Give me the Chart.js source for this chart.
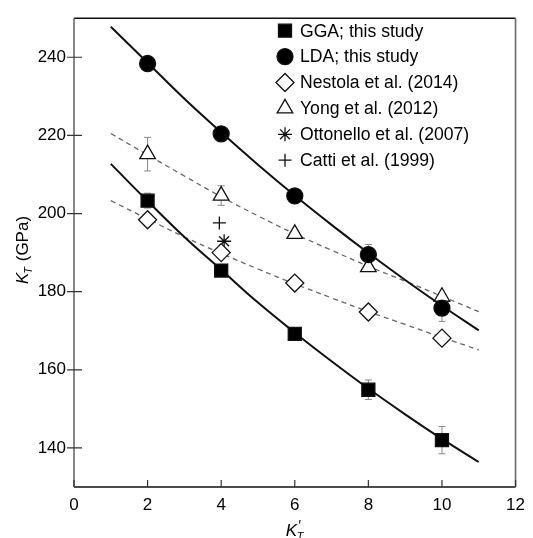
<!DOCTYPE html>
<html>
<head>
<meta charset="utf-8">
<script src="https://cdn.jsdelivr.net/npm/chart.js@4/dist/chart.umd.min.js"></script>
<style>
  html, body { margin: 0; padding: 0; background: #fff; }
  #wrap { width: 533px; height: 538px; }
</style>
</head>
<body>
<div id="wrap"><canvas id="c" width="533" height="538"></canvas></div>
<script>
// K'_T values where the points sit
const kPrime = [2, 4, 6, 8, 10];
const ggaK = [203.3, 185.4, 169.2, 154.9, 142.0];
const ggaErr = [1.9, 0, 0, 2.5, 3.5];
const ldaK = [238.4, 220.4, 204.5, 189.5, 175.8];
const ldaErr = [1.8, 0.6, 0.6, 2.6, 3.4];
const nestolaK = [198.4, 190.0, 182.2, 174.8, 168.1];
const yongK = [215.2, 204.6, 194.8, 186.3, 178.7];
const yongErr = [4.3, 2.5, 0, 0, 0];
const ottonelloKp = [4.08];
const ottonelloK = [192.9];
const cattiKp = [3.95];
const cattiK = [197.6];

// fitted curves
const fitKp = [1, 2, 3, 4, 5, 6, 7, 8, 9, 10, 11];
const ldaFit = [247.8, 238.6, 229.4, 220.8, 212.5, 204.6, 197.1, 189.9, 183.0, 176.4, 170.1];
const ggaFit = [212.7, 203.2, 194.0, 185.6, 177.2, 169.5, 162.2, 155.2, 148.6, 142.3, 136.4];
const yongFit = [220.5, 215.0, 209.6, 204.3, 199.4, 194.8, 190.6, 186.5, 182.7, 178.8, 174.9];
const nestolaFit = [203.3, 198.6, 194.0, 189.8, 185.8, 182.0, 178.4, 174.9, 171.6, 168.3, 165.1];

const xTicks = [0, 2, 4, 6, 8, 10, 12];
const yTicks = [140, 160, 180, 200, 220, 240];

const legendNames = ['GGA; this study', 'LDA; this study', 'Nestola et al. (2014)',
  'Yong et al. (2012)', 'Ottonello et al. (2007)', 'Catti et al. (1999)'];

const FONT = '"Liberation Sans", Arial, sans-serif';

function pts(xs, ys) {
  return xs.map((x, i) => ({x: x, y: ys[i]}));
}

function marker(label, xs, ys, style, radius, fill, err) {
  return {
    label: label,
    data: pts(xs, ys),
    pointStyle: style,
    pointRadius: radius,
    pointHoverRadius: radius,
    pointBackgroundColor: fill,
    pointBorderColor: '#111',
    pointBorderWidth: 1.3,
    showLine: false,
    order: 0,
    err: err
  };
}

function curve(ys, dashed) {
  return {
    label: '',
    data: pts(fitKp, ys),
    showLine: true,
    pointRadius: 0,
    borderColor: dashed ? '#666' : '#111',
    borderWidth: dashed ? 1.3 : 2,
    borderDash: dashed ? [5, 4] : [],
    tension: 0.4,
    order: 1
  };
}

const datasets = [
  marker(legendNames[0], kPrime, ggaK, 'rect', 9.2, '#000', ggaErr),
  marker(legendNames[1], kPrime, ldaK, 'circle', 8, '#000', ldaErr),
  marker(legendNames[2], kPrime, nestolaK, 'rectRot', 9, '#fff'),
  marker(legendNames[3], kPrime, yongK, 'triangle', 9, '#fff', yongErr),
  marker(legendNames[4], ottonelloKp, ottonelloK, 'star', 7, '#fff'),
  marker(legendNames[5], cattiKp, cattiK, 'cross', 6.5, '#fff'),
  curve(ldaFit, false),
  curve(ggaFit, false),
  curve(yongFit, true),
  curve(nestolaFit, true)
];

const extras = {
  id: 'extras',
  beforeDatasetsDraw(chart) {
    const ctx = chart.ctx, xs = chart.scales.x, ys = chart.scales.y;
    ctx.save();
    ctx.strokeStyle = '#888';
    ctx.lineWidth = 1;
    chart.data.datasets.forEach(ds => {
      if (!ds.err) return;
      ds.data.forEach((p, i) => {
        const e = ds.err[i];
        if (!e) return;
        const px = xs.getPixelForValue(p.x);
        const top = ys.getPixelForValue(p.y + e);
        const bot = ys.getPixelForValue(p.y - e);
        ctx.beginPath();
        ctx.moveTo(px, top); ctx.lineTo(px, bot);
        ctx.moveTo(px - 3.5, top); ctx.lineTo(px + 3.5, top);
        ctx.moveTo(px - 3.5, bot); ctx.lineTo(px + 3.5, bot);
        ctx.stroke();
      });
    });
    ctx.restore();
  },
  afterDraw(chart) {
    const ctx = chart.ctx, a = chart.chartArea;
    const xs = chart.scales.x, ys = chart.scales.y;
    ctx.save();
    // frame
    ctx.lineWidth = 1.6;
    ctx.strokeStyle = '#111';
    ctx.beginPath();
    ctx.moveTo(a.left, a.top); ctx.lineTo(a.right, a.top);
    ctx.moveTo(a.left, a.bottom); ctx.lineTo(a.right, a.bottom);
    ctx.stroke();
    ctx.strokeStyle = '#6a6a6a';
    ctx.beginPath();
    ctx.moveTo(a.left, a.top); ctx.lineTo(a.left, a.bottom);
    ctx.moveTo(a.right, a.top); ctx.lineTo(a.right, a.bottom);
    ctx.stroke();
    // ticks
    ctx.lineWidth = 1.2;
    ctx.strokeStyle = '#333';
    ctx.beginPath();
    xTicks.forEach(v => {
      const px = xs.getPixelForValue(v);
      ctx.moveTo(px, a.bottom); ctx.lineTo(px, a.bottom - 7);
    });
    yTicks.forEach(v => {
      const py = ys.getPixelForValue(v);
      ctx.moveTo(a.left - 7, py); ctx.lineTo(a.left + 8, py);
    });
    ctx.stroke();

    // legend
    const lx = 285, ly = 30.7, step = 25.9;
    ctx.font = '17.6px ' + FONT;
    ctx.textBaseline = 'middle';
    ctx.textAlign = 'left';
    ctx.lineWidth = 1.3;
    for (let i = 0; i < 6; i++) {
      const ds = chart.data.datasets[i];
      const cy = ly + i * step;
      ctx.strokeStyle = '#111';
      ctx.fillStyle = ds.pointBackgroundColor;
      Chart.helpers.drawPoint(ctx, {
        pointStyle: ds.pointStyle,
        radius: ds.pointRadius,
        rotation: 0,
        borderWidth: 1.3
      }, lx, cy);
      ctx.fillStyle = '#000';
      ctx.fillText(ds.label, lx + 15, cy + 1);
    }

    // y title: K_T (GPa)
    ctx.save();
    ctx.translate(22, 250);
    ctx.rotate(-Math.PI / 2);
    ctx.fillStyle = '#000';
    ctx.textBaseline = 'alphabetic';
    const big = '17px ' + FONT, bigI = 'italic 17px ' + FONT, small = 'italic 11px ' + FONT;
    ctx.font = bigI; const wK = ctx.measureText('K').width;
    ctx.font = small; const wT = ctx.measureText('T').width;
    ctx.font = big; const wG = ctx.measureText(' (GPa)').width;
    let sx = -(wK + wT + wG) / 2;
    ctx.font = bigI; ctx.fillText('K', sx, 6); sx += wK;
    ctx.font = small; ctx.fillText('T', sx - 1, 10); sx += wT;
    ctx.font = big; ctx.fillText(' (GPa)', sx, 6);
    ctx.restore();

    // x title: K'_T
    const cx = (a.left + a.right) / 2;
    ctx.fillStyle = '#000';
    ctx.textBaseline = 'alphabetic';
    ctx.font = bigI;
    ctx.fillText('K', cx - 9, 536);
    ctx.font = 'italic 14px ' + FONT;
    ctx.fillText('\u2032', cx + 3, 530);
    ctx.font = small;
    ctx.fillText('T', cx + 2, 540);
    ctx.restore();
  }
};

new Chart(document.getElementById('c'), {
  type: 'scatter',
  data: {datasets: datasets},
  options: {
    responsive: false,
    animation: false,
    events: [],
    layout: {padding: {top: 13, right: 10, left: 0, bottom: 0}},
    plugins: {legend: {display: false}, tooltip: {enabled: false}},
    scales: {
      x: {
        type: 'linear',
        min: 0, max: 12,
        afterBuildTicks: s => { s.ticks = xTicks.map(v => ({value: v})); },
        afterFit: s => { s.height = 51; },
        grid: {display: false, drawTicks: false},
        border: {display: false},
        ticks: {color: '#000', padding: 8, font: {family: FONT, size: 17}, maxRotation: 0}
      },
      y: {
        type: 'linear',
        min: 130, max: 250,
        afterBuildTicks: s => { s.ticks = yTicks.map(v => ({value: v})); },
        afterFit: s => { s.width = 74; },
        grid: {display: false, drawTicks: false},
        border: {display: false},
        ticks: {color: '#000', padding: 8, font: {family: FONT, size: 17}}
      }
    }
  },
  plugins: [extras]
});
</script>
</body>
</html>
